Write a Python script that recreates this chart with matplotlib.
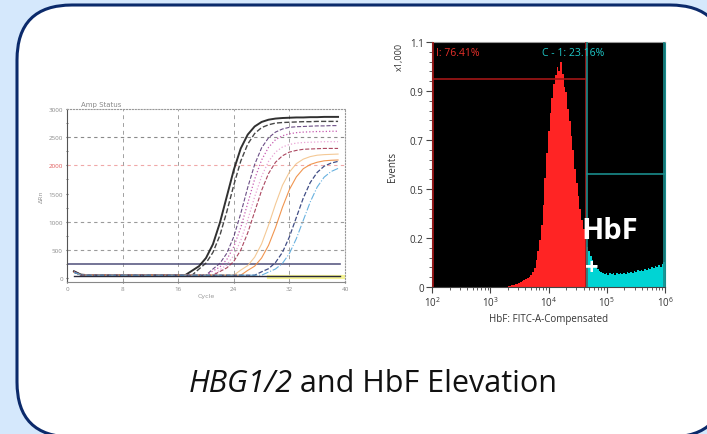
import numpy as np
import matplotlib
matplotlib.use("Agg")
import matplotlib.pyplot as plt
from matplotlib.patches import FancyBboxPatch
from matplotlib.ticker import FixedLocator, MultipleLocator, LogLocator, NullFormatter

plt.rcParams['font.family'] = ['Open Sans', 'DejaVu Sans']
plt.rcParams['mathtext.fontset'] = 'custom'
plt.rcParams['mathtext.rm'] = 'Open Sans'

W, H = 707, 435

# ---------------- datos: qPCR (ΔRn por ciclo) ----------------
cycles = list(range(1, 40))
qpcr_curves = [
    # negro continuo
    [120, 60] + [50] * 15 + [130, 210, 355, 600, 980, 1450, 1920, 2300, 2545, 2690, 2770, 2810,
                             2830, 2840, 2845, 2850, 2850, 2855, 2855, 2860, 2860, 2860],
    # negro discontinuo
    [115, 60] + [50] * 16 + [160, 265, 455, 757, 1180, 1650, 2075, 2375, 2565, 2670, 2720, 2750,
                             2760, 2765, 2770, 2775, 2775, 2780, 2780, 2780, 2780],
    # morado
    [110, 55] + [50] * 18 + [160, 260, 440, 735, 1145, 1605, 2015, 2310, 2490, 2590, 2645, 2675,
                             2685, 2690, 2695, 2700, 2700, 2705, 2705],
    # magenta
    [110, 55] + [50] * 18 + [125, 195, 330, 555, 895, 1325, 1755, 2095, 2320, 2455, 2525, 2560,
                             2580, 2590, 2595, 2600, 2600, 2605, 2605],
    # rosa
    [105, 55] + [50] * 19 + [145, 235, 400, 665, 1030, 1440, 1805, 2070, 2235, 2325, 2370, 2395,
                             2405, 2410, 2415, 2420, 2420, 2420],
    # granate
    [105, 55] + [50] * 19 + [115, 180, 295, 495, 800, 1175, 1555, 1855, 2055, 2170, 2235, 2265,
                             2285, 2290, 2295, 2300, 2300, 2300],
    # melocotón
    [100, 55] + [50] * 22 + [140, 220, 370, 605, 940, 1310, 1645, 1880, 2030, 2110, 2155, 2180,
                             2190, 2195, 2200],
    # naranja
    [100, 55] + [50] * 23 + [135, 210, 355, 580, 895, 1255, 1570, 1795, 1940, 2015, 2055, 2080,
                             2090, 2095],
    # azul marino
    [100, 55] + [50] * 25 + [110, 165, 275, 455, 730, 1075, 1420, 1695, 1875, 1985, 2040, 2070],
    # azul claro
    [100, 55] + [50] * 26 + [105, 160, 260, 435, 700, 1025, 1350, 1615, 1790, 1890, 1945],
]
qpcr_colors = ['#1a1a1a', '#333333', '#5b3a78', '#c04aa8', '#e79ad0',
               '#a2334f', '#f3c38a', '#ef8a3d', '#2c3a78', '#58a9dc']
qpcr_styles = ['-', '--', '--', ':', ':', '--', '-', '-', '--', '-.']
qpcr_widths = [1.4, 1.0, 0.8, 0.9, 0.9, 0.8, 0.8, 0.8, 0.9, 0.8]
threshold = 240
ntc_cycles = [29, 40]
ntc_values = [12, 12]
qpcr_xticks = [0, 8, 16, 24, 32, 40]
qpcr_yticks = [0, 500, 1000, 1500, 2000, 2500, 3000]

# ---------------- datos: citometría HbF ----------------
hbf_log_start = 3.30
hbf_log_step = 0.03
hbf_counts = [
    0.004, 0.006, 0.008, 0.010, 0.012, 0.015, 0.019, 0.022, 0.026, 0.031,
    0.036, 0.040, 0.047, 0.055, 0.066, 0.085, 0.120, 0.160, 0.210, 0.280,
    0.370, 0.490, 0.600, 0.700, 0.780, 0.850, 0.910, 0.950, 0.990, 0.970,
    1.010, 0.955, 0.900, 0.875, 0.800, 0.745, 0.680, 0.615, 0.530, 0.465,
    0.410, 0.350, 0.300, 0.260, 0.220, 0.180, 0.160, 0.140, 0.120, 0.100,
    0.090, 0.080, 0.072, 0.066, 0.062, 0.058, 0.064, 0.055, 0.061, 0.057,
    0.063, 0.056, 0.062, 0.058, 0.065, 0.059, 0.064, 0.060, 0.067, 0.062,
    0.069, 0.064, 0.071, 0.067, 0.075, 0.070, 0.078, 0.073, 0.082, 0.076,
    0.085, 0.080, 0.090, 0.084, 0.094, 0.088, 0.098, 0.092, 0.105, 0.112,
]
gate_split = 4.5e4
gate_i = (1.05e2, 4.4e4, 0.935)
gate_c = (4.6e4, 9.8e5, 0.506)
flow_yticks = [0, 0.22, 0.44, 0.66, 0.88, 1.1]
flow_ylabels = ['0', '0.2', '0.5', '0.7', '0.9', '1.1']


def px_box(left, top, right, bottom):
    return [left / W, 1 - bottom / H, (right - left) / W, (bottom - top) / H]


fig = plt.figure(figsize=(W / 100, H / 100), dpi=100)
fig.patch.set_facecolor('#d5e8fc')

# marco redondeado
bg = fig.add_axes([0, 0, 1, 1])
bg.set_xlim(0, W)
bg.set_ylim(H, 0)
bg.axis('off')
bg.add_patch(FancyBboxPatch((17, 6), 708, 432, boxstyle='round,pad=0,rounding_size=55',
                            fc='white', ec='#0b2a6b', lw=2.2))

# pie: parte en cursiva + parte normal, centradas juntas
rend = fig.canvas.get_renderer()
t1 = bg.text(0, 384, 'HBG1/2', style='italic', ha='left', va='center', fontsize=22,
             color='#111111')
t2 = bg.text(0, 384, ' and HbF Elevation', ha='left', va='center', fontsize=22,
             color='#111111')
w1 = t1.get_window_extent(rend).width
w2 = t2.get_window_extent(rend).width
x_start = 373 - (w1 + w2) / 2
t1.set_x(x_start)
t2.set_x(x_start + w1)

# ---------------- qPCR ----------------
ax1 = fig.add_axes(px_box(67, 110, 345, 283))
ax1.set_xlim(0, 40)
ax1.set_ylim(-71, 3000)
for y, col in [(500, '#9a9a9a'), (1000, '#9a9a9a'), (2000, '#f0a8a8'), (2500, '#8a8a8a')]:
    ax1.axhline(y, color=col, ls=(0, (3, 3)), lw=0.8)
for x in qpcr_xticks[1:-1]:
    ax1.axvline(x, color='#a0a0a0', ls=(0, (4, 4)), lw=0.7)
ax1.plot([0, 39.3], [threshold, threshold], color='#5c5c84', lw=1.2)
ax1.plot(ntc_cycles, ntc_values, color='#f2f07a', lw=3, alpha=0.8)
for vals, col, ls, lw in zip(qpcr_curves, qpcr_colors, qpcr_styles, qpcr_widths):
    ax1.plot(cycles, vals, color=col, ls=ls, lw=lw, alpha=0.9)
ax1.plot([1, 39.3], [40, 40], color='#2a2a3a', lw=1.0)
ax1.set_xticks(qpcr_xticks)
ax1.set_yticks(qpcr_yticks)
ax1.yaxis.set_minor_locator(MultipleLocator(250))
ax1.tick_params(labelsize=4.5, labelcolor='#8a8a8a', length=2, width=0.8, color='#555555',
                direction='inout', pad=2)
ax1.tick_params(which='minor', length=1.5, width=0.7, color='#777777', direction='inout')
for lab in ax1.get_yticklabels():
    if lab.get_text() == '2000':
        lab.set_color('#e05a5a')
for s in ['top', 'right']:
    ax1.spines[s].set_linestyle(':')
    ax1.spines[s].set_color('#999999')
ax1.spines['left'].set_color('#555555')
ax1.spines['bottom'].set_color('#888888')
ax1.set_title('Amp Status', fontsize=5, color='#888888', loc='left', x=0.05, pad=2,
              family='DejaVu Sans')
ax1.set_xlabel('Cycle', fontsize=4.5, color='#999999', labelpad=1, family='DejaVu Sans')
ax1.set_ylabel('ΔRn', fontsize=4.5, color='#999999', labelpad=3, family='DejaVu Sans')

# ---------------- histograma HbF ----------------
ax2 = fig.add_axes(px_box(432, 43, 665, 288))
ax2.set_facecolor('black')
ax2.set_xscale('log')
ax2.set_xlim(1e2, 1e6)
ax2.set_ylim(0, 1.1)
counts = np.array(hbf_counts)
edges = 10 ** (hbf_log_start + hbf_log_step * np.arange(len(counts) + 1))
split = np.searchsorted(edges, gate_split)
ax2.stairs(counts[split - 1:], edges[split - 1:], fill=True, color='#00d4d4', zorder=1)
ax2.stairs(counts[:split], edges[:split + 1], fill=True, color='#ff2424', zorder=2)

gx0, gx1, gy = gate_i
ax2.plot([gx0, gx0], [0, 1.1], color='#a31616', lw=1.2, zorder=3)
ax2.plot([gx0, gx1], [gy, gy], color='#a31616', lw=1.2, zorder=3)
ax2.plot([gx1, gx1], [0, 1.1], color='#a31616', lw=1.2, zorder=3)
cx0, cx1, cy = gate_c
ax2.plot([cx0, cx0], [0, 1.1], color='#1a8c8c', lw=1.2, zorder=3)
ax2.plot([cx0, cx1], [cy, cy], color='#1a8c8c', lw=1.2, zorder=3)
ax2.plot([cx1, cx1], [0, 1.1], color='#1a8c8c', lw=1.2, zorder=3)

ax2.text(1.15e2, 1.055, 'I: 76.41%', color='#e8302a', fontsize=7.5, va='center', ha='left')
ax2.text(2.6e4, 1.055, 'C - 1: 23.16%', color='#1fc8c8', fontsize=7.5, va='center', ha='center')
ax2.text(10 ** 4.57, 0.255, 'HbF', color='white', fontsize=21, fontweight='bold',
         va='center', ha='left', zorder=4)
ax2.text(10 ** 4.745, 0.085, '+', color='white', fontsize=17, fontweight='bold',
         va='center', ha='center', zorder=4)

ax2.set_yticks(flow_yticks)
ax2.set_yticklabels(flow_ylabels)
ax2.yaxis.set_minor_locator(FixedLocator(np.arange(0, 1.1, 0.044)))
ax2.xaxis.set_major_locator(LogLocator(base=10, numticks=10))
ax2.xaxis.set_minor_locator(LogLocator(base=10, subs=np.arange(2, 10), numticks=20))
ax2.xaxis.set_minor_formatter(NullFormatter())
ax2.tick_params(labelsize=7, labelcolor='#333333', length=4, width=0.8, color='#444444', pad=2)
ax2.tick_params(which='minor', length=2, width=0.6, color='#444444')
ax2.spines['top'].set_color('#999999')
ax2.spines['right'].set_color('#1a8c8c')
ax2.spines['left'].set_color('#444444')
ax2.spines['bottom'].set_color('#444444')
ax2.set_xlabel('HbF: FITC-A-Compensated', fontsize=7, color='#333333', labelpad=3)

fig.text(399 / W, 1 - 57 / H, 'x1,000', rotation=90, fontsize=6.5, color='#333333',
         ha='center', va='center')
fig.text(392 / W, 1 - 167 / H, 'Events', rotation=90, fontsize=7, color='#333333',
         ha='center', va='center')

fig.savefig('out.png', dpi=100, facecolor=fig.get_facecolor())
